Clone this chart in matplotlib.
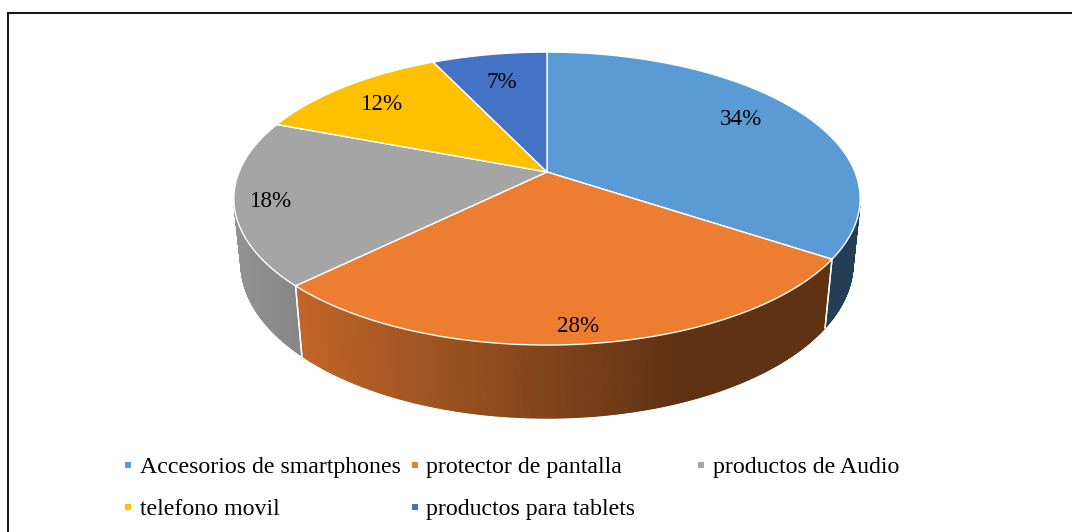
import numpy as np
import matplotlib
matplotlib.use("Agg")
import matplotlib.pyplot as plt
from matplotlib.patches import Polygon, Rectangle
from matplotlib.lines import Line2D

categories = ["Accesorios de smartphones", "protector de pantalla", "productos de Audio",
              "telefono movil", "productos para tablets"]
values = [34, 28, 18, 12, 7]
colors = ["#5B9BD5", "#ED7D31", "#A5A5A5", "#FFC000", "#4472C4"]
label_radius = [0.76, 0.90, 0.885, 0.80, 0.75]

plt.rcParams['font.family'] = ['Liberation Serif', 'DejaVu Serif']

W, H = 1072, 532
fig = plt.figure(figsize=(W / 100, H / 100), dpi=100)
ax = fig.add_axes([0, 0, 1, 1])
ax.set_xlim(0, W)
ax.set_ylim(H, 0)
ax.axis('off')

# perspective model of the 3-D pie
cx, cy = 547.0, 172.0
s_e, c_e = 0.46, np.sqrt(1 - 0.46 ** 2)
Dd, ff, hh = 4.90, 1509.0, 0.239


def proj(theta, r, y):
    x = r * np.sin(theta)
    z = r * np.cos(theta)
    depth = Dd + z * c_e - y * s_e
    return cx + ff * x / depth, cy - ff * (z * s_e + y * c_e) / depth


def rgb(hexc):
    hexc = hexc.lstrip('#')
    return np.array([int(hexc[i:i + 2], 16) / 255 for i in (0, 2, 4)])


total = float(sum(values))
fracs = np.array(values) / total
bounds = np.concatenate([[0], np.cumsum(fracs)]) * 2 * np.pi

# visible wall range
tv = np.arccos(-1.0 / (Dd * c_e))
wall_lo, wall_hi = tv, 2 * np.pi - tv

# walls
for i in range(len(values)):
    a, b = max(bounds[i], wall_lo), min(bounds[i + 1], wall_hi)
    if b <= a:
        continue
    n = max(int((b - a) / 0.004), 2)
    th = np.linspace(a, b, n + 1)
    base = rgb(colors[i])
    for j in range(n):
        t0, t1 = th[j], th[j + 1]
        p = [proj(t0, 1, 0), proj(t1, 1, 0), proj(t1, 1, -hh), proj(t0, 1, -hh)]
        mx = (p[0][0] + p[1][0]) / 2
        u = (mx - cx) / 313.0
        fac = np.clip(0.81 - 0.337 * (u + 0.79), 0.40, 1.0)
        col = base * fac
        ax.add_patch(Polygon(p, closed=True, facecolor=col, edgecolor=col,
                             linewidth=0.8, zorder=1))
    # white vertical separators
    for t in (bounds[i], bounds[i + 1]):
        if wall_lo < t < wall_hi:
            x0, y0 = proj(t, 1, 0)
            x1, y1 = proj(t, 1, -hh)
            ax.add_line(Line2D([x0, x1], [y0, y1], color='white', lw=1.0, zorder=2))

# top faces
for i in range(len(values)):
    th = np.linspace(bounds[i], bounds[i + 1], 200)
    pts = [proj(0, 0, 0)] + [proj(t, 1, 0) for t in th]
    ax.add_patch(Polygon(pts, closed=True, facecolor=colors[i], edgecolor='white',
                         linewidth=1.0, joinstyle='round', zorder=3))

# data labels
for i in range(len(values)):
    mid = (bounds[i] + bounds[i + 1]) / 2
    lx, ly = proj(mid, label_radius[i], 0)
    if i == 0:
        ly -= 7
    ax.text(lx, ly + 8, f"{round(fracs[i] * 100)}%", ha='center', va='baseline',
            fontsize=16.6, color='black', zorder=5)

# legend
col_x = [125, 411.5, 698]
row_y = [465, 507]
for i, name in enumerate(categories):
    r, cidx = divmod(i, 3)
    mx, my = col_x[cidx], row_y[r]
    ax.add_patch(Rectangle((mx, my - 3), 6, 6, facecolor=colors[i], edgecolor='none', zorder=5))
    ax.text(mx + 15, my, name, ha='left', va='center_baseline', fontsize=17.2, color='black')

# frame (top & left visible)
ax.add_line(Line2D([7.5, W + 5], [12.5, 12.5], color='#111111', lw=1.4, zorder=6))
ax.add_line(Line2D([7.5, 7.5], [12.5, H + 5], color='#111111', lw=1.4, zorder=6))

fig.savefig("out.png", dpi=100)
